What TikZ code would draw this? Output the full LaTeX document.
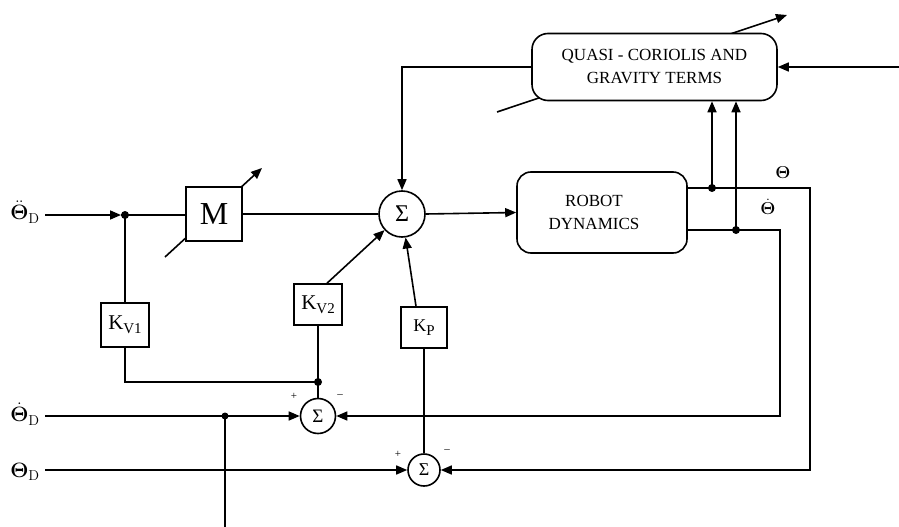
\documentclass[tikz,border=0pt]{standalone}
\usepackage[no-math]{fontspec}
\setmainfont{Liberation Serif}
\usetikzlibrary{arrows.meta,calc}
\newcommand{\subtx}[1]{\raisebox{-4pt}{\fontsize{15}{15}\selectfont #1}}
\begin{document}
\begin{tikzpicture}[x=1pt,y=-1pt,line width=1.6pt,
  tip/.style={-{Triangle[length=11pt,width=9pt]}},
  box/.style={draw,fill=white,inner sep=0pt},
  sumnode/.style={circle,draw,fill=white,inner sep=0pt},
  dotmark/.style={circle,fill,inner sep=0pt,minimum size=8pt},
  lbl/.style={inner sep=0pt},
  sgn/.style={inner sep=0pt,font=\fontsize{11}{11}\selectfont}]
\useasboundingbox (0,0) rectangle (899,527);
% diagonal adjustment arrows (drawn first, boxes cover them)
\coordinate (mA) at (165,257);
\coordinate (mB) at (262,168);
\draw[tip] (mA) -- (mB);
\coordinate (qA) at (497,112);
\coordinate (qB) at (787,15);
\draw[tip] (qA) -- (qB);
% blocks
\node[box,minimum width=56pt,minimum height=54pt,font=\fontsize{32}{32}\selectfont] (M) at (214,214) {M};
\node[sumnode,minimum size=46pt,font=\fontsize{24}{24}\selectfont] (s1) at (402,214) {Σ};
\node[box,rounded corners=14pt,minimum width=170pt,minimum height=81pt] (rd) at (602,212.5) {};
\node[lbl,align=center,font=\fontsize{17}{23}\selectfont] (rdt) at (594,212) {ROBOT\\DYNAMICS};
\node[box,rounded corners=16pt,minimum width=245pt,minimum height=67pt,align=center,font=\fontsize{17}{23}\selectfont] (qcg) at (654.5,67) {QUASI - CORIOLIS AND\\GRAVITY TERMS};
\node[box,minimum width=48pt,minimum height=44pt,font=\fontsize{21}{21}\selectfont] (kv1) at (125,325) {K\subtx{V1}};
\node[box,minimum width=48pt,minimum height=41pt,font=\fontsize{21}{21}\selectfont] (kv2) at (318,304.5) {K\subtx{V2}};
\node[box,minimum width=46pt,minimum height=41pt,font=\fontsize{18}{18}\selectfont] (kp) at (424,327.5) {K\subtx{P}};
\node[sumnode,minimum size=35pt,font=\fontsize{19}{19}\selectfont] (s2) at (318,416) {Σ};
\node[sumnode,minimum size=32pt,font=\fontsize{18}{18}\selectfont] (s3) at (424,470) {Σ};
% input labels
\node[lbl,font=\fontsize{20}{20}\selectfont] (lDD) at (25,212) {$\ddot{\mathbf{\Theta}}_{\mathrm{D}}$};
\node[lbl,font=\fontsize{20}{20}\selectfont] (lD) at (25,414) {$\dot{\mathbf{\Theta}}_{\mathrm{D}}$};
\node[lbl,font=\fontsize{20}{20}\selectfont] (lP) at (25,472) {$\mathbf{\Theta}_{\mathrm{D}}$};
\node[lbl,font=\fontsize{18}{18}\selectfont] (lT) at (783,173) {$\mathbf{\Theta}$};
\node[lbl,font=\fontsize{18}{18}\selectfont] (lTd) at (768,207) {$\dot{\mathbf{\Theta}}$};
% signs
\node[sgn] (p2) at (294,396) {+};
\node[sgn] (m2) at (340,396) {–};
\node[sgn] (p3) at (398,454) {+};
\node[sgn] (m3) at (447,451) {–};
% acceleration input path
\coordinate (inDD) at (45,215);
\coordinate (a1) at (121,215);
\coordinate (j1) at (125,215);
\draw[tip] (inDD) -- (a1);
\draw (a1) -- (M.west |- a1);
\node[dotmark] (dj1) at (j1) {};
\draw (M.east) -- (s1.west);
\draw[tip] (s1.east) -- (rd.west);
% QCG feedback and input
\draw[tip] (qcg.west) -| (s1.north);
\coordinate (inR) at (899,67);
\draw[tip] (inR) -- (qcg.east);
% outputs
\coordinate (o1) at (687,188);
\coordinate (d1) at (712,188);
\coordinate (c1) at (810,188);
\coordinate (o2) at (687,230);
\coordinate (d2) at (736,230);
\coordinate (c2) at (780,230);
\draw[tip] (o1) -- (c1) |- (s3.east);
\draw[tip] (o2) -- (c2) |- (s2.east);
\draw[tip] (d1) -- (d1 |- qcg.south);
\draw[tip] (d2) -- (d2 |- qcg.south);
\node[dotmark] (dd1) at (d1) {};
\node[dotmark] (dd2) at (d2) {};
% velocity gains
\draw (j1) -- (kv1.north);
\coordinate (j2) at (318,382);
\draw (kv1.south) |- (j2);
\draw (j2) -- (kv2.south);
\draw (j2) -- (s2.north);
\node[dotmark] (dj2) at (j2) {};
\draw[tip] ([xshift=9pt]kv2.north) -- (s1);
\draw[tip] ([xshift=-8pt]kp.north) -- (s1);
\draw (kp.south) -- (s3.north);
% desired velocity and position inputs
\coordinate (inV) at (45,416);
\coordinate (j3) at (225,416);
\coordinate (bot) at (225,527);
\draw[tip] (inV) -- (s2.west);
\draw (j3) -- (bot);
\node[dotmark,minimum size=7pt] (dj3) at (j3) {};
\coordinate (inP) at (45,470);
\draw[tip] (inP) -- (s3.west);
\end{tikzpicture}
\end{document}
